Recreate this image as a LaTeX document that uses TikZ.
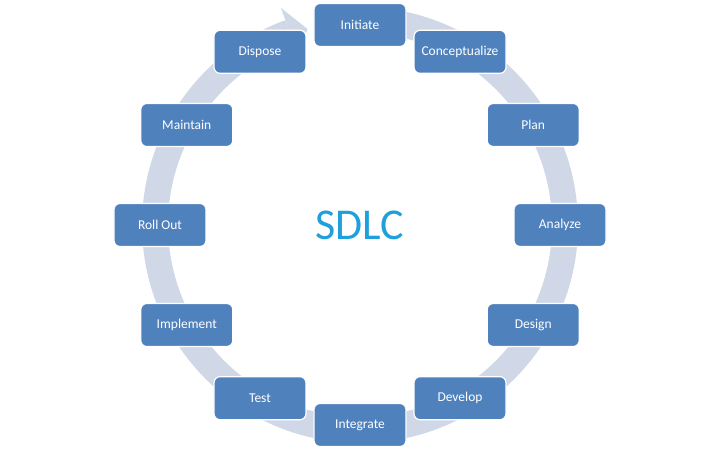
\documentclass[tikz,border=0pt]{standalone}
\usepackage{fontspec}
\setmainfont{Carlito}
\usepackage{tikz}
\definecolor{boxblue}{RGB}{79,129,189}
\definecolor{ringgray}{RGB}{208,216,232}
\definecolor{titleblue}{RGB}{30,160,220}

\begin{document}
\begin{tikzpicture}[
  x=1pt,y=1pt,
  stagenode/.style={draw=white,line width=1.2pt,fill=boxblue,rounded corners=6pt,
    minimum width=92pt,minimum height=43pt,text=white,
    font=\fontsize{13.5}{16}\selectfont},
  ]
  \tikzset{%
    ring/.style={
      line width=26pt,
      color=ringgray,
    },
  }
  \useasboundingbox (-360,-225) rectangle (360,225);
  %Ring
  \draw[ring] (95:205pt) arc[start angle=95,end angle=-250,radius=205pt];
  \fill[ringgray] (110:179pt) -- (110:231pt) -- (105:203pt) -- cycle;
  %Nodes
  \node[text=titleblue,font=\fontsize{44}{50}\selectfont](sdlc) at (0,0){SDLC};
  \node[stagenode](initiate) at (90:200pt){Initiate};
  \node[stagenode](concept) at (60:200pt){Conceptualize};
  \node[stagenode](plan) at (30:200pt){Plan};
  \node[stagenode](analyze) at (0:200pt){Analyze};
  \node[stagenode](design) at (-30:200pt){Design};
  \node[stagenode](develop) at (-60:200pt){Develop};
  \node[stagenode](integrate) at (-90:200pt){Integrate};
  \node[stagenode](test) at (-120:200pt){Test};
  \node[stagenode](implement) at (-150:200pt){Implement};
  \node[stagenode](rollout) at (180:200pt){Roll Out};
  \node[stagenode](maintain) at (150:200pt){Maintain};
  \node[stagenode](dispose) at (120:200pt){Dispose};
\end{tikzpicture}
\end{document}
